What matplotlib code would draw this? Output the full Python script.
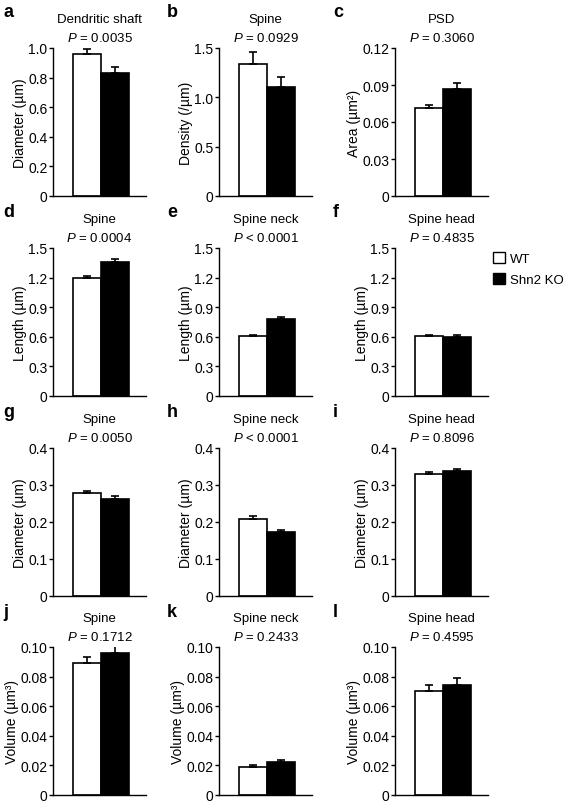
import matplotlib
matplotlib.use('Agg')
import matplotlib.pyplot as plt
from matplotlib.patches import Patch

plt.rcParams['font.family'] = ['Liberation Sans', 'DejaVu Sans']
plt.rcParams['mathtext.fontset'] = 'custom'
plt.rcParams['mathtext.it'] = 'Liberation Sans:italic'
plt.rcParams['mathtext.rm'] = 'Liberation Sans'

letters = ['a', 'b', 'c', 'd', 'e', 'f', 'g', 'h', 'i', 'j', 'k', 'l']
titles = ['Dendritic shaft', 'Spine', 'PSD',
          'Spine', 'Spine neck', 'Spine head',
          'Spine', 'Spine neck', 'Spine head',
          'Spine', 'Spine neck', 'Spine head']
pvals = ['= 0.0035', '= 0.0929', '= 0.3060',
         '= 0.0004', '< 0.0001', '= 0.4835',
         '= 0.0050', '< 0.0001', '= 0.8096',
         '= 0.1712', '= 0.2433', '= 0.4595']
ylabels = ['Diameter (µm)', 'Density (/µm)', 'Area (µm²)',
           'Length (µm)', 'Length (µm)', 'Length (µm)',
           'Diameter (µm)', 'Diameter (µm)', 'Diameter (µm)',
           'Volume (µm³)', 'Volume (µm³)', 'Volume (µm³)']
wt_mean = [0.96, 1.34, 0.071, 1.20, 0.61, 0.61, 0.278, 0.209, 0.331, 0.089, 0.019, 0.070]
wt_sem = [0.03, 0.12, 0.003, 0.02, 0.012, 0.01, 0.005, 0.008, 0.005, 0.0045, 0.001, 0.004]
ko_mean = [0.83, 1.10, 0.087, 1.36, 0.78, 0.60, 0.263, 0.174, 0.337, 0.096, 0.022, 0.074]
ko_sem = [0.04, 0.11, 0.005, 0.03, 0.02, 0.02, 0.006, 0.005, 0.007, 0.006, 0.0015, 0.005]
yticks = [[0, 0.2, 0.4, 0.6, 0.8, 1.0], [0, 0.5, 1.0, 1.5], [0, 0.03, 0.06, 0.09, 0.12],
          [0, 0.3, 0.6, 0.9, 1.2, 1.5], [0, 0.3, 0.6, 0.9, 1.2, 1.5], [0, 0.3, 0.6, 0.9, 1.2, 1.5],
          [0, 0.1, 0.2, 0.3, 0.4], [0, 0.1, 0.2, 0.3, 0.4], [0, 0.1, 0.2, 0.3, 0.4],
          [0, 0.02, 0.04, 0.06, 0.08, 0.10], [0, 0.02, 0.04, 0.06, 0.08, 0.10],
          [0, 0.02, 0.04, 0.06, 0.08, 0.10]]
ytick_labels = [['0', '0.2', '0.4', '0.6', '0.8', '1.0'], ['0', '0.5', '1.0', '1.5'],
                ['0', '0.03', '0.06', '0.09', '0.12'],
                ['0', '0.3', '0.6', '0.9', '1.2', '1.5'], ['0', '0.3', '0.6', '0.9', '1.2', '1.5'],
                ['0', '0.3', '0.6', '0.9', '1.2', '1.5'],
                ['0', '0.1', '0.2', '0.3', '0.4'], ['0', '0.1', '0.2', '0.3', '0.4'],
                ['0', '0.1', '0.2', '0.3', '0.4'],
                ['0', '0.02', '0.04', '0.06', '0.08', '0.10'], ['0', '0.02', '0.04', '0.06', '0.08', '0.10'],
                ['0', '0.02', '0.04', '0.06', '0.08', '0.10']]
groups = ['WT', 'Shn2 KO']

W, H = 567, 803
fig = plt.figure(figsize=(W / 100, H / 100), dpi=100)

col_left = [53, 219, 395]
col_letter = [3, 167, 333]
row_top = [49, 249, 449, 648]
ax_w, ax_h = 93, 148
fs = 10
fs_title = 9.5

for i in range(12):
    r, c = divmod(i, 3)
    left = col_left[c]
    top = row_top[r]
    ax = fig.add_axes([left / W, (H - top - ax_h) / H, ax_w / W, ax_h / H])
    ax.bar([0], [wt_mean[i]], width=1, color='white', edgecolor='black', linewidth=1.2)
    ax.bar([1], [ko_mean[i]], width=1, color='black', edgecolor='black', linewidth=1.2)
    ax.errorbar([0, 1], [wt_mean[i], ko_mean[i]], yerr=[[0, 0], [wt_sem[i], ko_sem[i]]],
                fmt='none', ecolor='black', elinewidth=1.2, capsize=2.6, capthick=1.2)
    ax.set_xlim(-1.21, 2.11)
    ax.set_ylim(0, yticks[i][-1])
    ax.set_yticks(yticks[i])
    ax.set_yticklabels(ytick_labels[i], fontsize=fs)
    ax.set_xticks([])
    ax.spines['top'].set_visible(False)
    ax.spines['right'].set_visible(False)
    ax.spines['left'].set_linewidth(1.0)
    ax.spines['bottom'].set_linewidth(1.0)
    ax.tick_params(axis='y', length=3, width=1.0, pad=1)
    ax.set_ylabel(ylabels[i], fontsize=fs, labelpad=1)
    ax.text(0.5, 1 + 29 / ax_h, titles[i], transform=ax.transAxes, ha='center', va='center',
            fontsize=fs_title)
    ax.text(0.5, 1 + 10 / ax_h, r'$\it{P}$ ' + pvals[i], transform=ax.transAxes,
            ha='center', va='center', fontsize=fs_title)
    fig.text(col_letter[c] / W, 1 - (200 * r + 4) / H, letters[i], fontsize=13,
             fontweight='bold', ha='left', va='top')

handles = [Patch(facecolor='white', edgecolor='black', linewidth=1.0),
           Patch(facecolor='black', edgecolor='black', linewidth=1.0)]
fig.legend(handles, groups, loc='upper left', bbox_to_anchor=(492 / W, 1 - 252 / H),
           frameon=False, fontsize=9.5, handlelength=0.9, handleheight=0.9,
           handletextpad=0.35, labelspacing=0.6, borderaxespad=0, borderpad=0.1)

fig.savefig('out.png', dpi=100)
